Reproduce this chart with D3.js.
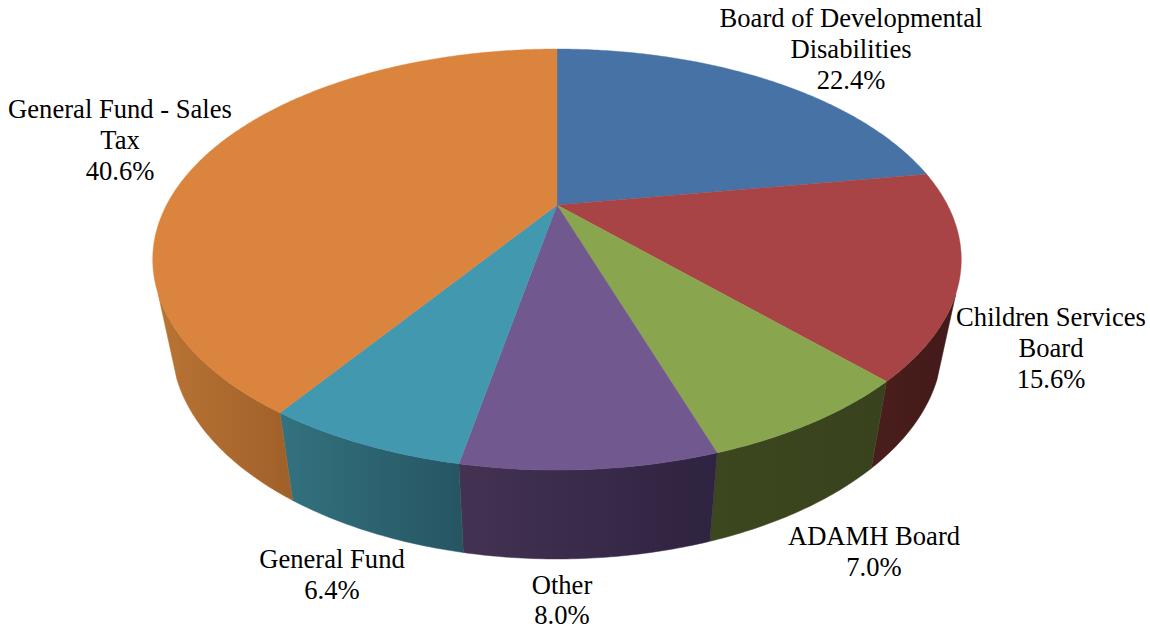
<!DOCTYPE html>
<html><head><meta charset="utf-8">
<script src="https://cdn.jsdelivr.net/npm/d3@7"></script>
<style>html,body{margin:0;padding:0;background:#fff}svg{display:block}text{font-family:"Liberation Serif",serif;fill:#000}</style>
</head><body><svg id="c" width="1150" height="630"></svg>
<script>
const categories = ["Board of Developmental Disabilities","Children Services Board","ADAMH Board","Other","General Fund","General Fund - Sales Tax"];
const values = [22.4,15.6,7.0,8.0,6.4,40.6];
const labelLines = [["Board of Developmental","Disabilities"],["Children Services","Board"],["ADAMH Board"],["Other"],["General Fund"],["General Fund - Sales","Tax"]];

const topColors = ["#4672A6","#A84445","#89A64E","#71588F","#4298AF","#DB843D"];
const wallStart = ["#33537a","#4a1e1d","#3c471f","#443252","#33727f","#b97434"];
const wallEnd   = ["#2a4468","#421a19","#38421d","#2e2340","#265562","#9f6029"];
const labelPos = [[851,27],[1051,326],[874,545],[562,593.5],[332,568],[120,118]];
const fontSize = 26.6, lineGap = 30.8;

const svg = d3.select("#c");
const cx = 557;
const topPlane = {Y:205,A:390.5,B:196.4,k:0.259};
const botPlane = {Y:288,A:372,B:200.4,k:0.2604};
const project = (p,a)=>{const u=Math.sin(a),v=-Math.cos(a),d=1-p.k*v;return [cx+p.A*u/d,p.Y+p.B*v/d];};

const arcs = d3.pie().sort(null).startAngle(0).endAngle(2*Math.PI)(values);
const line = d3.line();
const samples = (a0,a1)=>{const n=Math.max(2,Math.ceil((a1-a0)/0.01));return d3.range(n+1).map(i=>a0+(a1-a0)*i/n);};
const rad = d=>d*Math.PI/180;
const defs = svg.append("defs");

// walls of the near half, painted under the top face
const wallMin = rad(114), wallMax = rad(246);
arcs.forEach((s,i)=>{
  const a0=Math.max(s.startAngle,wallMin), a1=Math.min(s.endAngle,wallMax);
  if(a1<=a0) return;
  const ts=samples(a0,a1);
  const pts=ts.map(a=>project(topPlane,a)).concat(ts.slice().reverse().map(a=>project(botPlane,a)));
  const xs=d3.extent(pts,p=>p[0]);
  const g=defs.append("linearGradient").attr("id","w"+i).attr("gradientUnits","userSpaceOnUse")
    .attr("x1",xs[0]).attr("x2",xs[1]).attr("y1",0).attr("y2",0);
  g.append("stop").attr("offset",0).attr("stop-color",wallStart[i]);
  g.append("stop").attr("offset",1).attr("stop-color",wallEnd[i]);
  svg.append("path").attr("d",line(pts)+"Z").attr("fill","url(#w"+i+")").attr("stroke","url(#w"+i+")").attr("stroke-width",0.5);
});

// top face
arcs.forEach((s,i)=>{
  const pts=[[cx,topPlane.Y]].concat(samples(s.startAngle,s.endAngle).map(a=>project(topPlane,a)));
  svg.append("path").attr("d",line(pts)+"Z").attr("fill",topColors[i]).attr("stroke",topColors[i]).attr("stroke-width",0.4);
});

// labels
const fmt=d3.format(".1f");
labelLines.forEach((ls,i)=>{
  const t=svg.append("text").attr("text-anchor","middle").attr("font-size",fontSize);
  ls.concat(fmt(values[i])+"%").forEach((l,j)=>{
    t.append("tspan").attr("x",labelPos[i][0]).attr("y",labelPos[i][1]+j*lineGap).text(l);
  });
});
</script></body></html>
